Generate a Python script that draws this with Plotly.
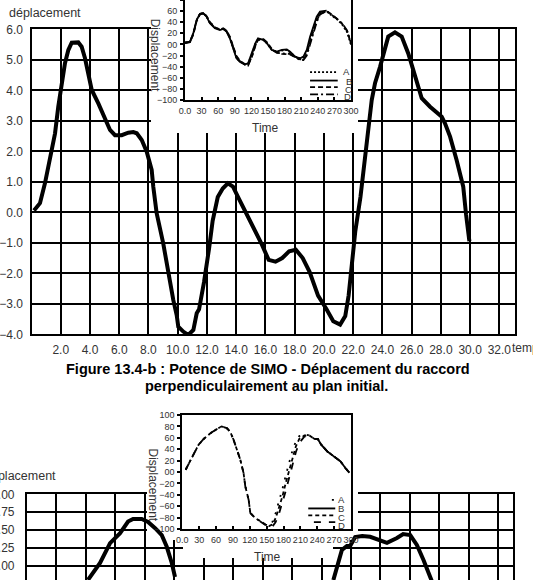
import plotly.graph_objects as go

W, H = 533, 580
FONT = "Liberation Sans, Arial, Helvetica, sans-serif"
TXT = "#333333"

# ---------------- data : figure 13.4-b (main curve) ----------------
fig_b_temps = [0.17, 0.58, 0.92, 1.27, 1.61, 1.83, 2.07, 2.29, 2.52, 2.75,
               3.2, 3.43, 3.66, 3.89, 4.12, 4.57, 5.03, 5.37, 5.71, 6.17,
               6.62, 6.96, 7.2, 7.54, 7.88, 8.22, 8.33, 8.43, 8.56, 9.01,
               9.36, 9.7, 9.93, 10.04, 10.38, 10.72, 11.07, 11.3, 11.46, 11.8,
               12.15, 12.39, 12.74, 13.08, 13.43, 13.78, 14.13, 14.6, 15.18, 15.76,
               16.22, 16.69, 17.15, 17.62, 18.08, 18.55, 19.02, 19.6, 20.18, 20.64,
               21.11, 21.46, 21.69, 21.92, 22.15, 22.5, 22.93, 23.27, 23.5, 23.84,
               24.4, 24.86, 25.32, 25.77, 26.11, 26.69, 27.26, 27.72, 28.06, 28.28,
               28.63, 29.08, 29.53, 29.72, 29.95]
fig_b_depl = [0.06, 0.30, 0.95, 1.71, 2.59, 3.46, 4.23, 4.89, 5.32, 5.56,
              5.57, 5.43, 5.05, 4.45, 4.01, 3.57, 3.03, 2.70, 2.53, 2.53,
              2.61, 2.63, 2.59, 2.37, 1.99, 1.39, 0.84, 0.40, -0.03, -1.02,
              -2.0, -2.88, -3.37, -3.75, -3.91, -4.02, -3.86, -3.31, -3.18, -2.29,
              -1.17, -0.28, 0.50, 0.78, 0.95, 0.84, 0.50, 0.06, -0.50, -1.06,
              -1.56, -1.62, -1.50, -1.28, -1.23, -1.50, -1.95, -2.73, -3.18, -3.57,
              -3.68, -3.40, -2.73, -1.73, -0.61, 0.50, 2.27, 3.68, 4.24, 4.77,
              5.76, 5.90, 5.76, 5.21, 4.67, 3.74, 3.46, 3.25, 3.13, 2.92,
              2.48, 1.71, 0.84, -0.06, -0.95]
fig_b_xticks = [2, 4, 6, 8, 10, 12, 14, 16, 18, 20, 22, 24, 26, 28, 30, 32]
fig_b_xlabels = ["2.0", "4.0", "6.0", "8.0", "10.0", "12.0", "14.0", "16.0",
                 "18.0", "20.0", "22.0", "24.0", "26.0", "28.0", "30.0", "32.0"]
fig_b_yticks = [-4, -3, -2, -1, 0, 1, 2, 3, 4, 5, 6]
fig_b_ylabels = ["\u22124.0", "\u22123.0", "\u22122.0", "\u22121.0", "0.0",
                 "1.0", "2.0", "3.0", "4.0", "5.0", "6.0"]

# ---------------- data : inset of figure 13.4-b ----------------
inset_b_time = [0, 9, 15, 21, 27, 33, 39, 45, 54, 63,
                69, 75, 81, 87, 93, 99, 108, 114, 121, 127,
                132, 142, 148, 157, 166, 175, 184, 190, 199, 208,
                214, 220, 226, 232, 238, 244, 256, 265, 275, 284,
                293, 298, 300]
inset_b_A = [3, 5, 20, 44, 55, 56, 51, 39, 30, 27,
             28, 24, 12, -6, -24, -31, -36, -35, -18, 1,
             10, 8, 2, -10, -14, -11, -10, -14, -22, -25,
             -23, -12, 10, 29, 47, 57, 60, 52, 45, 36,
             22, 6, 0]
inset_b_B = [3, 5, 20, 44, 55, 56, 50, 38, 29, 26,
             28, 23, 11, -7, -25, -31, -36, -34, -16, 2,
             11, 8, 2, -10, -13, -10, -9, -13, -22, -25,
             -22, -10, 14, 32, 50, 59, 61, None, None, None,
             None, None, None]
inset_b_C = [3, 4, 18, 42, 54, 56, 51, 40, 31, 27,
             29, 25, 14, -3, -21, -29, -35, -37, -22, -3,
             8, 9, 4, -8, -14, -17, -18, -18, -23, -27,
             -27, -18, 4, 24, 43, 55, 60, 54, 46, 37,
             24, 8, 0]
inset_b_D = [3, 4, 19, 43, 55, 56, 50, 39, 30, 27,
             28, 24, 13, -4, -22, -30, -36, -38, -21, -2,
             9, 9, 3, -9, -15, -16, -17, -17, -23, -28,
             -28, -20, 0, 20, 40, 54, 60, 53, 46, 38,
             25, 9, 1]
inset_time_ticks = [0, 30, 60, 90, 120, 150, 180, 210, 240, 270, 300]
inset_time_labels = ["0.0", "30", "60", "90", "120", "150", "180", "210", "240", "270", "300"]
inset_b_dticks = [-100, -80, -60, -40, -20, 0, 20, 40, 60, 80]
inset_c_dticks = [-100, -80, -60, -40, -20, 0, 20, 40, 60, 80, 100]
legend_names = ["A", "B", "C", "D"]

# ---------------- data : second figure (main curve) ----------------
fig_c_temps = [4.14, 4.96, 5.64, 6.32, 6.86, 7.2, 7.79, 8.22, 8.7, 9.15, 9.49, 9.83, 10.05,
               None,
               20.8, 21.15, 21.38, 21.72, 21.94, 22.28, 22.76, 23.3, 23.98, 24.44,
               25.12, 25.54, 26.02, 26.47, 26.92, 27.38, 27.51]
fig_c_depl = [-0.194, 0.042, 0.319, 0.458, 0.62, 0.655, 0.655, 0.615, 0.528, 0.431, 0.268, 0.042, -0.153,
              None,
              -0.195, 0.084, 0.223, 0.279, 0.279, 0.404, 0.418, 0.408, 0.362, 0.324,
              0.39, 0.446, 0.432, 0.293, 0.084, -0.149, -0.223]
fig_c_xticks = fig_b_xticks
fig_c_yticks = [0, 0.25, 0.5, 0.75, 1.0]
fig_c_ylabels = ["0.00", "0.25", "0.50", "0.75", "1.00"]

# ---------------- data : inset of second figure ----------------
inset_c_time = [6, 11, 20, 29, 38, 50, 61, 70, 79, 85,
                91, 97, 103, 109, 112, 118, 121, 130, 139, 148,
                154, 160, 166, 172, 178, 184, 190, 196, 202, 208,
                217, 226, 235, 241, 247, 258, 270, 281, 290, 297]
inset_c_A = [4, 13, 30, 48, 58, 68, 75, 80, 77, 71,
             57, 39, 22, -2, -25, -49, -72, -81, -87, -92,
             -95, -88, -72, -52, -30, -6, 18, 38, 54, 63,
             66, 64, 58, 58, 48, 36, 27, 19, 7, -1]
inset_c_B = [None, None, None, None, None, None, None, None, None, None,
             None, None, None, None, None, None, None, None, None, None,
             None, None, None, None, None, None, None, None, None, None,
             None, None, 58, 58, 48, 36, 27, 19, 7, -1]
inset_c_C = [4, 13, 30, 48, 58, 68, 75, 80, 77, 71,
             57, 39, 22, -2, -25, -49, -72, -81, -87, -92,
             -95, -92, -81, -63, -43, -19, 4, 27, 45, 58,
             64, 64, 58, 58, 48, 36, 27, 19, 7, -1]
inset_c_D = [4, 13, 30, 48, 58, 68, 75, 80, 77, 71,
             57, 39, 22, -2, -25, -49, -72, -81, -87, -92,
             -97, -96, -88, -73, -55, -33, -10, 14, 35, 51,
             62, 64, 58, 58, 48, 36, 27, 19, 7, -1]

assert len(fig_b_temps) == len(fig_b_depl)
assert len(fig_c_temps) == len(fig_c_depl)
for s in (inset_b_A, inset_b_B, inset_b_C, inset_b_D):
    assert len(s) == len(inset_b_time)
for s in (inset_c_A, inset_c_B, inset_c_C, inset_c_D):
    assert len(s) == len(inset_c_time)


def dlabel(v):
    if v == 0:
        return "00"
    return ("\u2212%d" % -v) if v < 0 else str(v)


# ---------------- pixel helpers (layout only) ----------------
def xd(a, b):
    return [a / W, b / W]


def yd(top, bottom):
    return [max(0.0, 1 - bottom / H), min(1.0, 1 - top / H)]


def px(x):
    return x / W


def py(y):
    return 1 - y / H


fig = go.Figure()

# 1) main curve of figure 13.4-b
fig.add_trace(go.Scatter(x=fig_b_temps, y=fig_b_depl, mode="lines",
                         line=dict(color="black", width=4), xaxis="x", yaxis="y"))
# 2) white backing of the top inset
fig.add_trace(go.Scatter(x=[None], y=[None], xaxis="x2", yaxis="y2"))
# 3) top inset curves
dash_b = {"A": "2px,2px", "B": "solid", "C": "5px,3px", "D": "8px,3px,2px,3px"}
for name, ser in zip(legend_names, (inset_b_A, inset_b_B, inset_b_C, inset_b_D)):
    fig.add_trace(go.Scatter(x=inset_b_time, y=ser, mode="lines", name=name,
                             line=dict(color="black", width=1.8, dash=dash_b[name]),
                             xaxis="x3", yaxis="y3"))
# 4) grid of the second figure
fig.add_trace(go.Scatter(x=[None], y=[None], xaxis="x4", yaxis="y4"))
# 5,6) white backing of the bottom inset
fig.add_trace(go.Scatter(x=[None], y=[None], xaxis="x5", yaxis="y5"))
fig.add_trace(go.Scatter(x=[None], y=[None], xaxis="x6", yaxis="y6"))
# 7) main curve of the second figure
fig.add_trace(go.Scatter(x=fig_c_temps, y=fig_c_depl, mode="lines",
                         line=dict(color="black", width=4), xaxis="x7", yaxis="y7"))
# 8) bottom inset curves
dash_c = {"A": "2px,7px", "B": "solid", "C": "4px,3px", "D": "7px,8px"}
for name, ser in zip(legend_names, (inset_c_A, inset_c_B, inset_c_C, inset_c_D)):
    fig.add_trace(go.Scatter(x=inset_c_time, y=ser, mode="lines", name=name,
                             line=dict(color="black", width=1.8, dash=dash_c[name]),
                             xaxis="x8", yaxis="y8"))

main_axis = dict(showgrid=True, gridcolor="black", gridwidth=1.6, zeroline=False,
                 showline=True, linecolor="black", linewidth=2.2, ticks="",
                 tickfont=dict(family=FONT, size=12, color=TXT), fixedrange=True,
                 automargin=False, tickangle=0)
hidden = dict(visible=False, range=[0, 1], fixedrange=True, automargin=False)
inset_axis = dict(showgrid=False, zeroline=False, showline=True, linecolor="black",
                  linewidth=2, tickcolor="black", ticklen=3, tickwidth=1.5,
                  tickfont=dict(family=FONT, size=9, color=TXT), fixedrange=True,
                  ticklabelstandoff=1, automargin=False, tickangle=0)

fig.update_layout(
    width=W, height=H, margin=dict(l=0, r=0, t=0, b=0, autoexpand=False),
    paper_bgcolor="white", plot_bgcolor="rgba(0,0,0,0)", showlegend=False,
    font=dict(family=FONT, color=TXT),
    xaxis=dict(main_axis, domain=xd(31.5, 515), range=[0, 33.07], anchor="y",
               tickmode="array", tickvals=fig_b_xticks, ticktext=fig_b_xlabels,
               mirror=True, ticklabelstandoff=3),
    yaxis=dict(main_axis, domain=yd(29.3, 334.3), range=[-4, 6], anchor="x",
               tickmode="array", tickvals=fig_b_yticks, ticktext=fig_b_ylabels,
               mirror=True, ticklabelstandoff=4),
    xaxis2=dict(hidden, domain=xd(151, 358), anchor="y2"),
    yaxis2=dict(hidden, domain=yd(0, 133), anchor="x2"),
    xaxis3=dict(inset_axis, domain=xd(185, 351), range=[0, 300], anchor="y3",
                tickmode="array", tickvals=inset_time_ticks, ticktext=inset_time_labels,
                ticks="inside", mirror=False),
    yaxis3=dict(inset_axis, domain=yd(0, 100), range=[-100, 80], anchor="x3",
                tickmode="array", tickvals=inset_b_dticks,
                ticktext=[dlabel(v) for v in inset_b_dticks],
                ticks="outside", mirror=True),
    xaxis4=dict(main_axis, domain=xd(27, 512.6), range=[0, 32.97], anchor="y4",
                tickmode="array", tickvals=fig_c_xticks, showticklabels=False,
                side="top", mirror=False),
    yaxis4=dict(main_axis, domain=yd(494.3, 580), range=[-0.195, 1.0], anchor="x4",
                tickmode="array", tickvals=fig_c_yticks, ticktext=fig_c_ylabels,
                mirror=True, ticklabelstandoff=8),
    xaxis5=dict(hidden, domain=xd(147, 358), anchor="y5"),
    yaxis5=dict(hidden, domain=yd(400, 540), anchor="x5"),
    xaxis6=dict(hidden, domain=xd(183, 333), anchor="y6"),
    yaxis6=dict(hidden, domain=yd(540, 558), anchor="x6"),
    xaxis7=dict(visible=False, fixedrange=True, automargin=False,
                domain=xd(27, 512.6), range=[0, 32.97], anchor="y7"),
    yaxis7=dict(visible=False, fixedrange=True, automargin=False,
                domain=yd(494.3, 580), range=[-0.195, 1.0], anchor="x7"),
    xaxis8=dict(inset_axis, domain=xd(182.3, 351), range=[0, 300], anchor="y8",
                tickmode="array", tickvals=inset_time_ticks, ticktext=inset_time_labels,
                ticks="inside", mirror=True),
    yaxis8=dict(inset_axis, domain=yd(415, 529), range=[-100, 100], anchor="x8",
                tickmode="array", tickvals=inset_c_dticks,
                ticktext=[dlabel(v) for v in inset_c_dticks],
                ticks="outside", mirror=True),
)

shapes = []
# white backings (drawn inside their own subplot, above the main grid)
for ax in ("2", "5", "6"):
    shapes.append(dict(type="rect", xref="x" + ax, yref="y" + ax, x0=0, x1=1, y0=0, y1=1,
                       fillcolor="white", line=dict(width=0), layer="below"))

# legend samples, top inset
for name, yv in zip(legend_names, (-50, -65, -77, -90)):
    shapes.append(dict(type="line", xref="x3", yref="y3", x0=226, x1=276, y0=yv, y1=yv,
                       line=dict(color="black", width=1.8, dash=dash_b[name])))
# legend samples, bottom inset
for name, yv, x0 in zip(legend_names, (-49, -64, -76, -88), (266, 224, 224, 234)):
    shapes.append(dict(type="line", xref="x8", yref="y8", x0=x0, x1=272, y0=yv, y1=yv,
                       line=dict(color="black", width=1.8, dash=dash_c[name])))
fig.update_layout(shapes=shapes)

ann = []


def text(t, x, y, size=12, xanchor="center", angle=0, color=TXT, xref="paper", yref="paper"):
    ann.append(dict(text=t, x=x, y=y, xref=xref, yref=yref, showarrow=False,
                    xanchor=xanchor, yanchor="middle", textangle=angle,
                    font=dict(family=FONT, size=size, color=color)))


text("déplacement", px(7), py(12.7), size=12.5, xanchor="left")
text("temps", px(509.5), py(347.5), xanchor="left")
text("<b>Figure 13.4-b : Potence de SIMO - Déplacement du raccord</b>", px(268), py(368.5),
     size=14.5, color="black")
text("<b>perpendiculairement au plan initial.</b>", px(266.5), py(385.5), size=14.5, color="black")
text("Displacement", px(155.8), py(55.5), angle=90)
text("Time", px(265), py(127.7))
text("déplacement", px(58), py(476), size=12.5, xanchor="right")
text("Displacement", px(152.5), py(485), angle=90)
text("Time", px(267.5), py(556.7))
for name, xv, yv in zip(legend_names, (282, 287, 285, 283), (-49, -66, -81, -94)):
    text(name, xv, yv, size=9.5, xanchor="left", xref="x3", yref="y3")
for name, yv in zip(legend_names, (-49, -64, -79, -94)):
    text(name, 274, yv, size=9.5, xanchor="left", xref="x8", yref="y8")
fig.update_layout(annotations=ann)

fig.write_html("out.html", config={"displayModeBar": False})
